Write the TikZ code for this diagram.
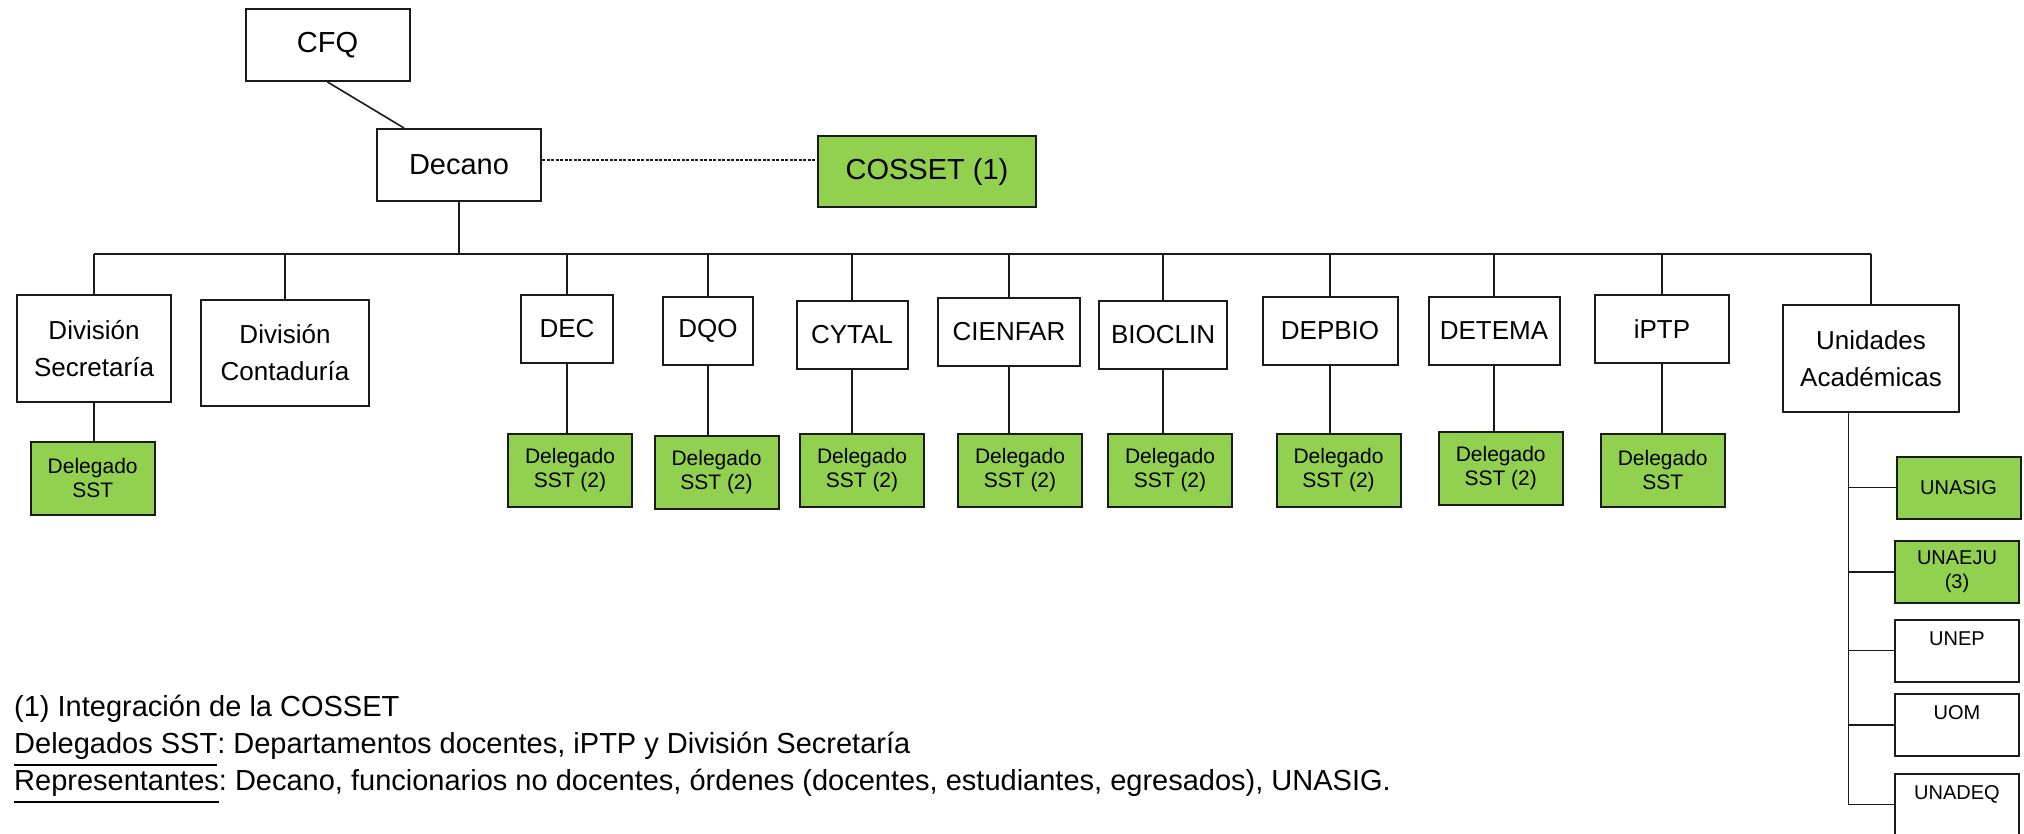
\documentclass[tikz,border=0pt]{standalone}
\usepackage{fontspec}
\setmainfont{Liberation Sans}
\usepackage{xcolor}
\definecolor{sstgreen}{HTML}{92D050}
\definecolor{boxline}{HTML}{1A1A1A}
\usepackage{tikz}
\usetikzlibrary{positioning,calc}
\newcommand{\ulnote}[1]{\setbox0=\hbox{#1}\rlap{\vrule height -10.5pt depth 12.5pt width \wd0}\box0}
\frenchspacing

\begin{document}
\begin{tikzpicture}[x=1pt,y=-1pt]
\tikzset{
 topbox/.style={draw=boxline,line width=2pt,inner sep=0pt,minimum width=164pt,minimum height=72pt,font=\fontsize{29}{34}\selectfont},
 depbox/.style={draw=boxline,line width=2pt,inner sep=0pt,minimum height=68pt,align=center,font=\fontsize{26}{37}\selectfont},
 delbox/.style={draw=boxline,line width=2pt,fill=sstgreen,inner sep=0pt,minimum width=124pt,minimum height=73pt,align=center,font=\fontsize{21}{24}\selectfont},
 unitbox/.style={draw=boxline,line width=2pt,inner sep=0pt,minimum width=124pt,minimum height=62pt,align=center,font=\fontsize{20}{24}\selectfont},
 note/.style={anchor=base west,inner sep=0pt,font=\fontsize{29}{36}\selectfont},
 link/.style={line width=1.6pt,draw=boxline}
}
\useasboundingbox (0,0) rectangle (2024,833);
% top
\node[topbox] (cfq) at (327.5,45) {CFQ};
\node[topbox] (decano) at (459,165) {Decano};
\node[topbox,fill=sstgreen,minimum width=218pt,minimum height=71pt] (cosset) at (927,171.5) {COSSET (1)};
% divisiones y departamentos
\node[depbox,minimum width=154pt,minimum height=107pt] (divsec) at (94,348.5) {División\\Secretaría};
\node[depbox,minimum width=168pt,minimum height=106pt] (divcont) at (285,352.5) {División\\Contaduría};
\node[depbox,minimum width=92pt] (dec) at (567,329) {DEC};
\node[depbox,minimum width=90pt] (dqo) at (708,331) {DQO};
\node[depbox,minimum width=111pt] (cytal) at (852,335) {CYTAL};
\node[depbox,minimum width=142pt] (cienfar) at (1009,332) {CIENFAR};
\node[depbox,minimum width=128pt] (bioclin) at (1163,335) {BIOCLIN};
\node[depbox,minimum width=135pt] (depbio) at (1330,331) {DEPBIO};
\node[depbox,minimum width=131pt] (detema) at (1494,331) {DETEMA};
\node[depbox,minimum width=134pt] (iptp) at (1662,329) {iPTP};
\node[depbox,minimum width=176pt,minimum height=107pt] (unidades) at (1871,358.5) {Unidades\\Académicas};
% delegados
\node[delbox] (deldivsec) at (92.7,478) {Delegado\\SST};
\node[delbox] (deldec) at (570,470) {Delegado\\SST (2)};
\node[delbox] (deldqo) at (716.5,472) {Delegado\\SST (2)};
\node[delbox] (delcytal) at (862,470) {Delegado\\SST (2)};
\node[delbox] (delcienfar) at (1020,470) {Delegado\\SST (2)};
\node[delbox] (delbioclin) at (1170,470) {Delegado\\SST (2)};
\node[delbox] (deldepbio) at (1338.5,470) {Delegado\\SST (2)};
\node[delbox] (deldetema) at (1500.7,468.3) {Delegado\\SST (2)};
\node[delbox] (deliptp) at (1662.7,470) {Delegado\\SST};
% unidades academicas
\node[unitbox,fill=sstgreen] (unasig) at (1958.5,487.6) {UNASIG};
\node[unitbox,fill=sstgreen] (unaeju) at (1957,571.7) {UNAEJU\\(3)};
\node[unitbox] (unep) at (1957,650.5) {UNEP\\~};
\node[unitbox] (uom) at (1957,724.7) {UOM\\~};
\node[unitbox] (unadeq) at (1957,804.5) {UNADEQ\\~};
% notas
\node[note] (nota1) at (14,716.7) {(1) Integración de la COSSET};
\node[note] (nota2) at (14,753.3) {\ulnote{Delegados SST}: Departamentos docentes, iPTP y División Secretaría};
\node[note] (nota3) at (14,790) {\ulnote{Representantes}: Decano, funcionarios no docentes, órdenes (docentes, estudiantes, egresados), UNASIG.};
% conectores
\coordinate (bar) at (0,254);
\draw[link] (cfq.south) -- ([xshift=28pt]decano.north west);
\draw[link,dash pattern=on 3pt off 1.5pt] ([yshift=5pt]decano.east) -- ([yshift=5pt]decano.east -| cosset.west);
\draw[link] (decano.south) -- (decano.south |- bar);
\draw[link] (divsec.north |- bar) -- (unidades.north |- bar);
\draw[link] (divsec.north |- bar) -- (divsec.north);
\draw[link] (divcont.north |- bar) -- (divcont.north);
\draw[link] (dec.north |- bar) -- (dec.north);
\draw[link] (dqo.north |- bar) -- (dqo.north);
\draw[link] (cytal.north |- bar) -- (cytal.north);
\draw[link] (cienfar.north |- bar) -- (cienfar.north);
\draw[link] (bioclin.north |- bar) -- (bioclin.north);
\draw[link] (depbio.north |- bar) -- (depbio.north);
\draw[link] (detema.north |- bar) -- (detema.north);
\draw[link] (iptp.north |- bar) -- (iptp.north);
\draw[link] (unidades.north |- bar) -- (unidades.north);
\draw[link] (divsec.south) -- (divsec.south |- deldivsec.north);
\draw[link] (dec.south) -- (dec.south |- deldec.north);
\draw[link] (dqo.south) -- (dqo.south |- deldqo.north);
\draw[link] (cytal.south) -- (cytal.south |- delcytal.north);
\draw[link] (cienfar.south) -- (cienfar.south |- delcienfar.north);
\draw[link] (bioclin.south) -- (bioclin.south |- delbioclin.north);
\draw[link] (depbio.south) -- (depbio.south |- deldepbio.north);
\draw[link] (detema.south) -- (detema.south |- deldetema.north);
\draw[link] (iptp.south) -- (iptp.south |- deliptp.north);
\coordinate (trunk) at ([xshift=-22.5pt]unidades.south);
\draw[link] (trunk) -- (trunk |- unadeq.west) -- (unadeq.west);
\draw[link] (trunk |- unasig.west) -- (unasig.west);
\draw[link] (trunk |- unaeju.west) -- (unaeju.west);
\draw[link] (trunk |- unep.west) -- (unep.west);
\draw[link] (trunk |- uom.west) -- (uom.west);
\end{tikzpicture}
\end{document}
